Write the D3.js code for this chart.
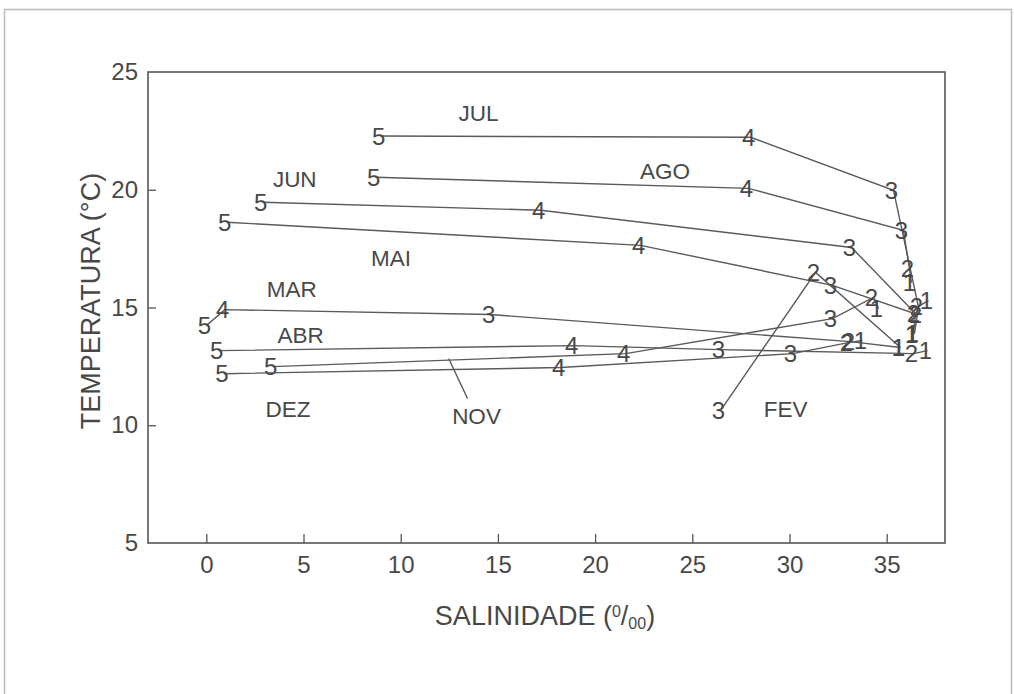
<!DOCTYPE html>
<html>
<head>
<meta charset="utf-8">
<script src="https://cdn.jsdelivr.net/npm/d3@7"></script>
<style>
  body { margin: 0; background: #fff; }
  svg text { font-family: "Liberation Sans", Arial, sans-serif; fill: #484848; }
  .tick line { stroke: #555; stroke-width: 1.3; }
  .tick text { font-size: 24px; }
  .st { font-size: 24px; }
  .mes { font-size: 22.5px; }
</style>
</head>
<body>
<div id="chart"></div>
<script>
// estações 5 -> 1 para cada mês
var stations = ["5", "4", "3", "2", "1"];
var months = ["JUL", "AGO", "JUN", "MAI", "MAR", "ABR", "NOV", "DEZ", "FEV"];

var julSal = [8.97, 28.0, 35.35, 36.63, 37.15];
var julTemp = [22.28, 22.23, 19.98, 15.04, 15.30];
var agoSal = [8.71, 27.89, 35.86, 36.17, 36.27];
var agoTemp = [20.53, 20.06, 18.28, 16.66, 16.06];
var junSal = [2.90, 17.20, 33.19, 36.48, 36.38];
var junTemp = [19.47, 19.13, 17.55, 14.74, 13.87];
var maiSal = [1.05, 22.34, 32.21, 36.58, 36.43];
var maiTemp = [18.62, 17.64, 15.94, 14.70, 13.89];
var marSal = [0.0, 0.95, 14.63, 33.13, 35.71];
var marTemp = [14.23, 14.91, 14.70, 13.55, 13.30];
var abrSal = [0.64, 18.90, 26.45, 36.38, 37.10];
var abrTemp = [13.17, 13.38, 13.21, 13.04, 13.17];
var novSal = [3.42, 21.57, 32.21, 34.32, 34.58];
var novTemp = [12.49, 13.04, 14.53, 15.43, 14.96];
var dezSal = [0.90, 18.23, 30.15, 33.03, 33.75];
var dezTemp = [12.19, 12.45, 13.04, 13.51, 13.60];
// fevereiro só tem as estações 3, 2 e 1
var fevSal = [26.45, 31.34, 35.71];
var fevTemp = [10.62, 16.49, 13.30];

// posição dos rótulos dos meses (em unidades do gráfico)
var labelSal = [14.0, 23.6, 4.55, 9.5, 4.4, 4.85, 13.9, 4.2, 29.8];
var labelTemp = [23.26, 20.79, 20.45, 17.09, 15.81, 13.85, 10.40, 10.70, 10.70];
// linha de chamada do NOV
var novLeaderSal = [12.47, 13.44];
var novLeaderTemp = [12.83, 11.13];

var xTicks = [0, 5, 10, 15, 20, 25, 30, 35];
var yTicks = [5, 10, 15, 20, 25];

var series = [
  {sal: julSal, temp: julTemp, st: stations},
  {sal: agoSal, temp: agoTemp, st: stations},
  {sal: junSal, temp: junTemp, st: stations},
  {sal: maiSal, temp: maiTemp, st: stations},
  {sal: marSal, temp: marTemp, st: stations},
  {sal: abrSal, temp: abrTemp, st: stations},
  {sal: novSal, temp: novTemp, st: stations},
  {sal: dezSal, temp: dezTemp, st: stations},
  {sal: fevSal, temp: fevTemp, st: ["3", "2", "1"]}
];

var svg = d3.select("#chart").append("svg").attr("width", 1014).attr("height", 694);

// moldura externa
svg.append("rect").attr("x", 4.5).attr("y", 9.5).attr("width", 1007).attr("height", 720)
  .attr("fill", "none").attr("stroke", "#bbb").attr("stroke-width", 1.5);

var x = d3.scaleLinear().domain([-3, 38]).range([148, 945]);
var y = d3.scaleLinear().domain([5, 25]).range([543, 72]);

var g = svg.append("g");

g.append("rect")
  .attr("x", x(-3)).attr("y", y(25))
  .attr("width", x(38) - x(-3)).attr("height", y(5) - y(25))
  .attr("fill", "none").attr("stroke", "#555").attr("stroke-width", 1.6);

var xAxis = g.append("g").attr("transform", "translate(0," + y(5) + ")")
  .call(d3.axisBottom(x).tickValues(xTicks).tickSize(-9).tickPadding(13));
xAxis.select(".domain").remove();

var yAxis = g.append("g").attr("transform", "translate(" + x(-3) + ",0)")
  .call(d3.axisLeft(y).tickValues(yTicks).tickSize(-8).tickPadding(10));
yAxis.select(".domain").remove();
yAxis.selectAll(".tick").filter(function(d){ return d == 5 || d == 25; }).select("line").remove();

var line = d3.line().x(function(d){ return x(d[0]); }).y(function(d){ return y(d[1]); });

series.forEach(function(s){
  var pts = s.sal.map(function(v, i){ return [v, s.temp[i], s.st[i]]; });
  g.append("path").attr("d", line(pts))
    .attr("fill", "none").attr("stroke", "#5a5a5a").attr("stroke-width", 1.4);
  g.selectAll(null).data(pts).enter().append("text")
    .attr("class", "st")
    .attr("x", function(d){ return x(d[0]) - 2; })
    .attr("y", function(d){ return y(d[1]); })
    .attr("dy", "0.36em")
    .attr("text-anchor", "middle")
    .text(function(d){ return d[2]; });
});

g.append("path")
  .attr("d", line(novLeaderSal.map(function(v, i){ return [v, novLeaderTemp[i]]; })))
  .attr("fill", "none").attr("stroke", "#5a5a5a").attr("stroke-width", 1.3);

g.selectAll(".mes").data(months).enter().append("text")
  .attr("class", "mes")
  .attr("x", function(d, i){ return x(labelSal[i]); })
  .attr("y", function(d, i){ return y(labelTemp[i]); })
  .attr("dy", "0.36em")
  .attr("text-anchor", "middle")
  .text(function(d){ return d; });

// títulos dos eixos
svg.append("text")
  .attr("transform", "translate(100,301) rotate(-90)")
  .attr("text-anchor", "middle")
  .style("font-size", "27px")
  .text("TEMPERATURA (°C)");

var xt = svg.append("text")
  .attr("x", 545).attr("y", 625)
  .attr("text-anchor", "middle")
  .style("font-size", "27px");
xt.append("tspan").text("SALINIDADE (");
xt.append("tspan").attr("dy", -8).style("font-size", "16px").text("0");
xt.append("tspan").attr("dy", 8).text("/");
xt.append("tspan").attr("dy", 4).style("font-size", "16px").text("00");
xt.append("tspan").attr("dy", -4).text(")");
</script>
</body>
</html>
